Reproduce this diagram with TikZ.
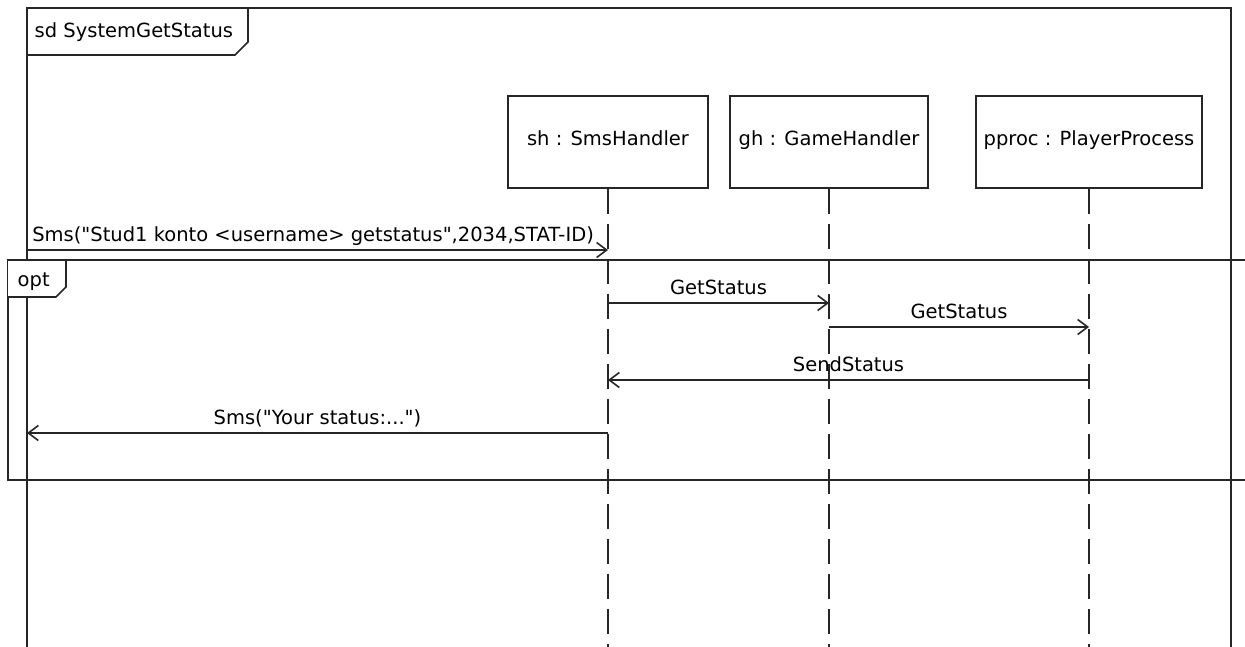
\documentclass[tikz,border=0pt]{standalone}
\usepackage{fontspec}
\setmainfont{DejaVu Sans}
\usetikzlibrary{arrows.meta}
\tikzset{
  frameline/.style = {draw=black!85, line width=1.6pt},
  lifebox/.style   = {draw=black!85, line width=1.6pt, minimum height=92pt,
                      inner sep=0pt, text height=1.5ex, text depth=.3ex,
                      font=\fontsize{19.5}{22}\selectfont},
  lifeline/.style  = {draw=black!85, line width=1.6pt, dash pattern=on 25pt off 10pt},
  msg/.style       = {draw=black!85, line width=1.6pt,
                      -{Straight Barb[length=10pt, width=15pt, line width=1.6pt]}},
  msglabel/.style  = {font=\fontsize{19.5}{22}\selectfont, inner sep=4.5pt,
                      text depth=3pt},
}

\begin{document}
\begin{tikzpicture}[x=1pt, y=-1pt]
  \useasboundingbox (0,0) rectangle (1245,646);
  \clip (0,0) rectangle (1245,646);

  % sd frame
  \coordinate (fl) at (27,0);
  \coordinate (bottom) at (0,660);
  \draw[frameline] (fl |- bottom) -- (27,8) -- (1231,8) -- (1231,660);
  \draw[frameline] (27,55) -- (235,55) -- (248,42) -- (248,8);
  \node[msglabel, anchor=west] (sdname) at (30,32) {sd SystemGetStatus};

  % lifelines
  \node[lifebox, minimum width=200pt] (sh) at (608,142) {sh : SmsHandler};
  \node[lifebox, minimum width=198pt] (gh) at (829,142) {gh : GameHandler};
  \node[lifebox, minimum width=226pt] (pp) at (1089,142) {pproc : PlayerProcess};
  \draw[lifeline] (sh.south) -- (sh.south |- bottom);
  \draw[lifeline] (gh.south) -- (gh.south |- bottom);
  \draw[lifeline] (pp.south) -- (pp.south |- bottom);

  % opt fragment
  \draw[frameline] (1250,260) -- (8,260) -- (8,480) -- (1250,480);
  \filldraw[frameline, fill=white] (8,297) -- (56,297) -- (66,287) -- (66,260) -- (8,260);
  \node[msglabel, anchor=west] (optname) at (13,281) {opt};

  % messages
  \coordinate (m1) at (0,250);
  \coordinate (m2) at (0,303);
  \coordinate (m3) at (0,327);
  \coordinate (m4) at (0,380);
  \coordinate (m5) at (0,433);
  \draw[msg] (fl |- m1) node[msglabel, above right, xshift=0pt]
    {Sms(\textquotedbl Stud1 konto <username> getstatus\textquotedbl,2034,STAT-ID)} -- (sh |- m1);
  \draw[msg] (sh |- m2) -- node[msglabel, above] {GetStatus} (gh |- m2);
  \draw[msg] (gh |- m3) -- node[msglabel, above] {GetStatus} (pp |- m3);
  \draw[msg] (pp |- m4) -- node[msglabel, above] {SendStatus} (sh |- m4);
  \draw[msg] (sh |- m5) -- node[msglabel, above]
    {Sms(\textquotedbl Your status:...\textquotedbl)} (fl |- m5);
\end{tikzpicture}
\end{document}
